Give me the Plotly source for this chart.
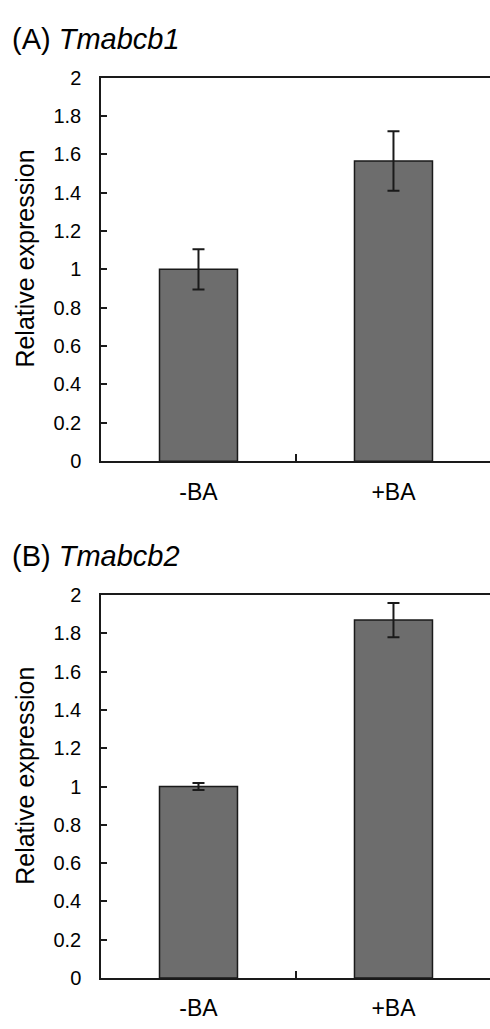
import plotly.graph_objects as go

categories = ["-BA", "+BA"]
values_a = [1.0, 1.565]
errors_a = [0.105, 0.155]
values_b = [1.0, 1.87]
errors_b = [0.018, 0.09]
panel_titles = ["(A) <i>Tmabcb1</i>", "(B) <i>Tmabcb2</i>"]
y_title = "Relative expression"

W, H = 490, 1029
FONT = "Liberation Sans, Arial, sans-serif"
BAR_COLOR = "#6d6d6d"
LINE = "#1a1a1a"

def py(px):
    return 1 - px / H

def px_x(px):
    return px / W

fig = go.Figure()
for i, (vals, errs) in enumerate([(values_a, errors_a), (values_b, errors_b)]):
    suffix = "" if i == 0 else "2"
    fig.add_trace(go.Bar(
        x=categories, y=vals,
        xaxis="x" + suffix, yaxis="y" + suffix,
        width=0.4,
        marker=dict(color=BAR_COLOR, line=dict(color=LINE, width=1.5)),
        error_y=dict(type="data", array=errs, visible=True,
                     color=LINE, thickness=2, width=6),
        showlegend=False,
        hoverinfo="skip",
    ))

# plot areas in pixels (top, bottom)
panels = [(68, 460), (597, 988)]
left_px = 101

axis_common_x = dict(
    type="category", range=[-0.5, 1.495], tickson="boundaries",
    ticks="inside", ticklen=7, tickwidth=1.5, tickcolor=LINE,
    showline=True, linecolor=LINE, linewidth=1.5, mirror=True,
    showgrid=False, zeroline=False,
    tickfont=dict(family=FONT, size=23, color="#000"),
    ticklabelstandoff=9,
    domain=[px_x(left_px), 1.0],
)
axis_common_y = dict(
    range=[0, 2], dtick=0.2, tick0=0,
    ticks="inside", ticklen=6, tickwidth=1.5, tickcolor=LINE,
    showline=True, linecolor=LINE, linewidth=1.5, mirror=False,
    showgrid=False, zeroline=False,
    tickfont=dict(family=FONT, size=20, color="#000"),
    ticklabelstandoff=14,
)

layout = dict(
    width=W, height=H,
    margin=dict(l=0, r=0, t=0, b=0),
    paper_bgcolor="white", plot_bgcolor="white",
    font=dict(family=FONT, color="#000"),
    bargap=0.6,
)
layout["xaxis"] = dict(axis_common_x, anchor="y")
layout["yaxis"] = dict(axis_common_y, anchor="x",
                       domain=[py(panels[0][1]), py(panels[0][0])])
layout["xaxis2"] = dict(axis_common_x, anchor="y2")
layout["yaxis2"] = dict(axis_common_y, anchor="x2",
                        domain=[py(panels[1][1]), py(panels[1][0])])
fig.update_layout(**layout)

annotations = []
title_centers = [29, 557]
for t, cy in zip(panel_titles, title_centers):
    annotations.append(dict(
        text=t, xref="paper", yref="paper", x=px_x(10), y=py(cy),
        xanchor="left", yanchor="middle", showarrow=False,
        font=dict(family=FONT, size=29, color="#000"),
    ))
for (top, bot) in panels:
    annotations.append(dict(
        text=y_title, xref="paper", yref="paper", x=px_x(25),
        y=py((top + bot) / 2 - 11), xanchor="center", yanchor="middle",
        textangle=-90, showarrow=False,
        font=dict(family=FONT, size=25, color="#000"),
    ))
fig.update_layout(annotations=annotations)

fig.write_html(
    "out.html",
    config={"displayModeBar": False},
    post_script="document.body.style.margin='0';document.body.style.overflow='hidden';",
)
